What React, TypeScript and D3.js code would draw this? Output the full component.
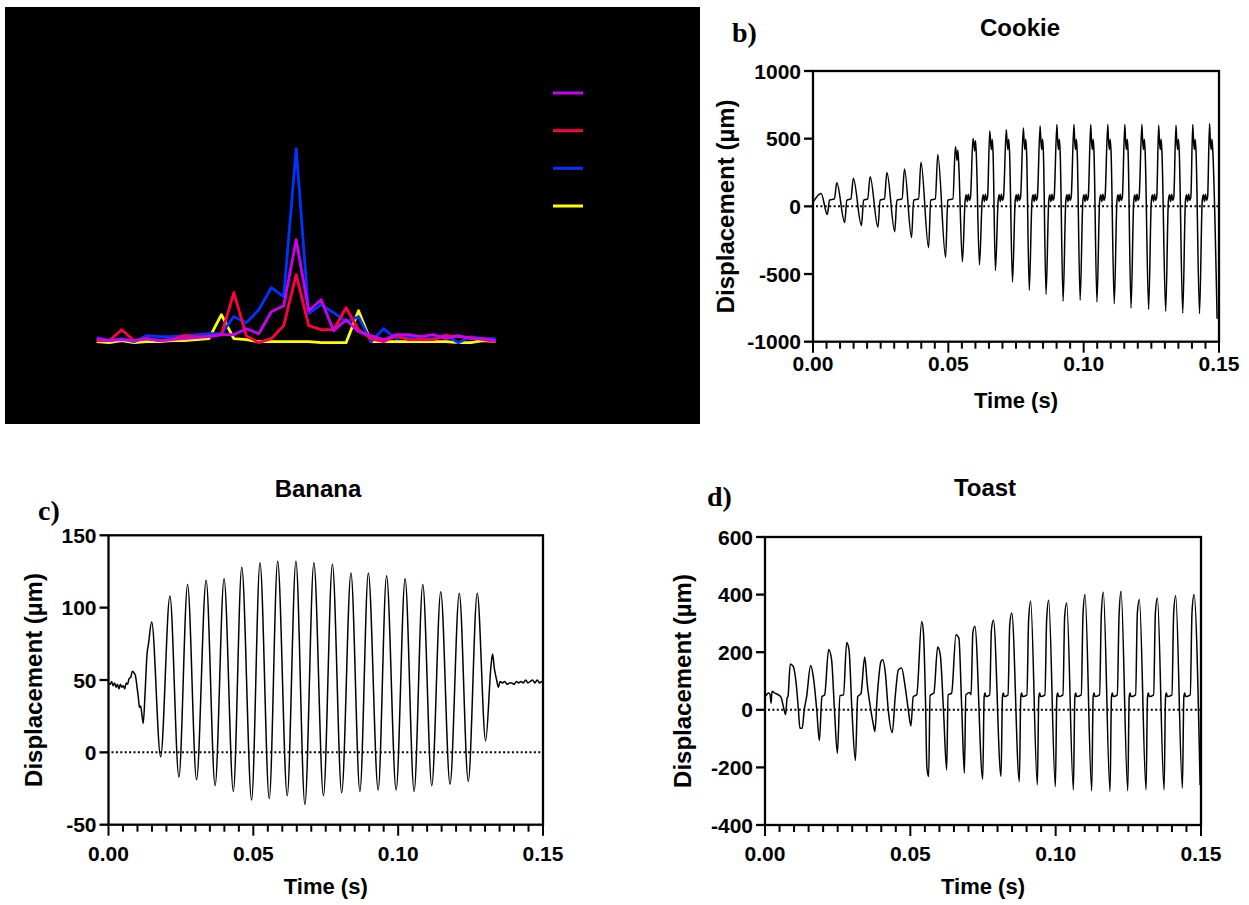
import React from 'react';
import * as d3 from 'd3';

type Pt = [number, number];

// ---------- Panel a (black spectrum panel) ----------
const aBins = d3.range(33);
const aMagenta = [4, 2, 3, 2, 4, 2, 3, 4, 5, 6, 8, 8, 14, 9, 31, 37, 103, 32, 43, 12, 23, 11, 7, 3, 8, 8, 6, 8, 4, 7, 4, 4, 2];
const aRed = [2, 2, 13, 2, 4, 2, 3, 7, 6, 6, 8, 50, 7, 0, 4, 17, 68, 17, 13, 13, 35, 13, 4, 1, 7, 3, 3, 3, 7, 6, 5, 3, 1];
const aBlue = [5, 2, 4, 1, 7, 6, 6, 7, 8, 9, 9, 26, 20, 33, 55, 46, 194, 29, 38, 30, 21, 26, 1, 14, 4, 6, 4, 4, 8, 0, 6, 4, 4];
const aYellow = [1, 0, 2, 0, 1, 1, 2, 2, 3, 4, 28, 4, 3, 1, 1, 1, 1, 1, 0, 0, 0, 32, 1, 1, 1, 1, 1, 1, 1, 0, 0, 2, 1];
const aSeriesColors = ['#ffff00', '#0033ff', '#ff0040', '#cc00f0'];
const aLegendColors = ['#cc00f0', '#ff0040', '#0033ff', '#ffff00'];

// ---------- Shared axis ticks ----------
const timeTicks = [0, 0.05, 0.1, 0.15];
const timeTickLabels = ['0.00', '0.05', '0.10', '0.15'];
const cookieYTicks = [-1000, -500, 0, 500, 1000];
const bananaYTicks = [-50, 0, 50, 100, 150];
const toastYTicks = [-400, -200, 0, 200, 400, 600];

// ---------- Cookie ----------
const cookieLeadIn: Pt[] = [[0, 30]];
const cookiePeakT = [0.0030, 0.0088, 0.0149, 0.0211, 0.0273, 0.0338, 0.0399, 0.0461, 0.0526, 0.0591, 0.0653, 0.0714, 0.0777, 0.0839, 0.0901, 0.0964, 0.1026, 0.1089, 0.1152, 0.1215, 0.1277, 0.1341, 0.1403, 0.1465];
const cookiePeakV = [95, 175, 207, 219, 251, 276, 325, 384, 441, 502, 557, 566, 578, 594, 605, 605, 605, 605, 605, 605, 600, 600, 605, 612];
const cookieTroughT = [0.0053, 0.0117, 0.0179, 0.0240, 0.0302, 0.0364, 0.0427, 0.0490, 0.0552, 0.0615, 0.0674, 0.0737, 0.0799, 0.0861, 0.0924, 0.0987, 0.1049, 0.1113, 0.1175, 0.1240, 0.1303, 0.1366, 0.1428, 0.1493];
const cookieTroughV = [-60, -119, -142, -155, -187, -231, -305, -376, -410, -432, -474, -559, -620, -651, -702, -694, -707, -719, -752, -762, -776, -790, -793, -830];
const cookieShoulder = [0, 0, 0, 0, 0, 0, 0, 0, 400, 470, 480, 480, 480, 480, 480, 480, 480, 480, 480, 480, 480, 480, 480, 480];
const cookieShoulderShape: Pt[] = [[0.0003, 0], [0.0006, -60], [0.0009, 15], [0.0012, -70]];
const cookieBlobShape: Pt[] = [[0.0010, 40], [0.0014, 85], [0.0018, 35], [0.0022, 90], [0.0026, 45], [0.0030, 70]];
const cookiePlateau = [45, 55];

// ---------- Banana ----------
const bananaStart: Pt[] = [
  [0, 48], [0.0006, 47], [0.0011, 49], [0.0016, 46], [0.0021, 48], [0.0026, 45], [0.0031, 47], [0.0036, 44],
  [0.0041, 47], [0.0046, 45], [0.0051, 46], [0.0056, 44], [0.0061, 48], [0.0066, 47], [0.0071, 51], [0.0077, 52],
  [0.0082, 56], [0.0088, 55], [0.0093, 53], [0.0098, 46], [0.0103, 38], [0.0107, 31], [0.0111, 32], [0.0116, 25],
  [0.0120, 20], [0.0126, 40], [0.0133, 68], [0.0138, 75],
];
const bananaExtremaT = [0.0149, 0.0180, 0.0212, 0.0243, 0.0273, 0.0304, 0.0337, 0.0368, 0.0399, 0.0431, 0.0460, 0.0494, 0.0523, 0.0555, 0.0584, 0.0617, 0.0647, 0.0678, 0.0709, 0.0742, 0.0773, 0.0805, 0.0837, 0.0868, 0.0897, 0.0931, 0.0960, 0.0993, 0.1024, 0.1055, 0.1085, 0.1116, 0.1147, 0.1179, 0.1211, 0.1242, 0.1273, 0.1302];
const bananaExtremaV = [90, -3, 108, -17, 116, -19, 119, -23, 120, -27, 128, -33, 131, -32, 132, -30, 132, -36, 131, -30, 130, -28, 124, -27, 124, -26, 122, -26, 120, -27, 116, -23, 111, -22, 110, -20, 110, 8];
const bananaEnd: Pt[] = [
  [0.1321, 61], [0.1326, 68], [0.1332, 58], [0.1340, 50], [0.1346, 45], [0.1352, 49], [0.1360, 48], [0.1368, 49],
  [0.1376, 47], [0.1384, 48], [0.1392, 48], [0.1400, 47], [0.1408, 49], [0.1416, 48], [0.1424, 49], [0.1432, 48],
  [0.1440, 50], [0.1448, 48], [0.1456, 49], [0.1464, 50], [0.1472, 48], [0.1480, 50], [0.1488, 48], [0.1496, 49], [0.1500, 48],
];

// ---------- Toast ----------
const toastEarly: Pt[] = [
  [0, 47], [0.0003, 49], [0.0011, 58], [0.0017, 55], [0.0021, 23], [0.0024, 64], [0.0034, 58], [0.0046, 52], [0.0055, 44],
  [0.0063, 12], [0.0071, -17], [0.0076, 41], [0.0079, 46],
  [0.0087, 159], [0.0097, 151], [0.0107, 93], [0.0115, 0], [0.0120, -64], [0.0128, -64], [0.0135, 0], [0.0143, 44],
  [0.0157, 154], [0.0166, 116], [0.0178, 0], [0.0187, -107], [0.0196, 46], [0.0205, 51],
  [0.0219, 209], [0.0229, 174], [0.0239, 0], [0.0249, -151], [0.0258, 49], [0.0270, 52],
  [0.0281, 234], [0.0289, 209], [0.0299, 0], [0.0311, -176], [0.0319, 46], [0.0330, 56],
  [0.0343, 183], [0.0352, 87], [0.0364, 0], [0.0373, -52], [0.0378, -75], [0.0386, 46],
  [0.0399, 168], [0.0405, 174], [0.0414, 128], [0.0424, 0], [0.0438, -79], [0.0448, 46],
  [0.0459, 139], [0.0470, 145], [0.0482, 81], [0.0493, 0], [0.0502, -56], [0.0510, 46], [0.0522, 52],
  [0.0539, 307], [0.0545, 270], [0.0552, 40], [0.0557, -200], [0.0563, -232], [0.0568, 50], [0.0581, 58],
  [0.0594, 218], [0.0603, 191], [0.0614, 0], [0.0625, -209], [0.0630, 52], [0.0642, 58],
  [0.0657, 261], [0.0667, 249], [0.0677, 0], [0.0686, -220], [0.0691, 52], [0.0705, 60],
];
const toastPeakT = [0.0722, 0.0786, 0.0849, 0.0914, 0.0976, 0.1038, 0.1101, 0.1164, 0.1225, 0.1288, 0.1350, 0.1413, 0.1476];
const toastPeakV = [290, 311, 336, 377, 380, 371, 400, 408, 412, 383, 388, 396, 400];
const toastRiseV = [267, 278, 296, 313, 313, 325, 330, 330, 325, 336, 336, 336, 336];
const toastTroughT = [0.0749, 0.0812, 0.0875, 0.0937, 0.0999, 0.1061, 0.1124, 0.1187, 0.1248, 0.1311, 0.1373, 0.1436, 0.1497];
const toastTroughV = [-241, -232, -249, -261, -267, -278, -281, -284, -281, -278, -278, -272, -261];
const toastPlateauShape: Pt[] = [[0.0005, 45], [0.0008, 58], [0.0011, 46]];
const toastPlateauEnd = 52;

// ---------- Builders (assemble vertices from read values) ----------
function buildCookie(): Pt[] {
  const pts: Pt[] = [...cookieLeadIn];
  for (let i = 0; i < cookiePeakT.length; i++) {
    const tp = cookiePeakT[i];
    const tt = cookieTroughT[i];
    pts.push([tp, cookiePeakV[i]]);
    const sh = cookieShoulder[i];
    if (sh) cookieShoulderShape.forEach(([dt, dv]) => pts.push([tp + dt, sh + dv]));
    pts.push([tt, cookieTroughV[i]]);
    const next = cookiePeakT[i + 1];
    if (next === undefined) break;
    if (sh) cookieBlobShape.forEach(([dt, v]) => pts.push([tt + dt, v]));
    else pts.push([tt + 0.0008, cookiePlateau[0]], [next - 0.0009, cookiePlateau[1]]);
  }
  return pts;
}

function buildBanana(): Pt[] {
  const mid: Pt[] = bananaExtremaT.map((t, i) => [t, bananaExtremaV[i]]);
  return [...bananaStart, ...mid, ...bananaEnd];
}

function buildToast(): Pt[] {
  const pts: Pt[] = [...toastEarly];
  for (let i = 0; i < toastPeakT.length; i++) {
    const tp = toastPeakT[i];
    if (i > 0) {
      const prev = toastTroughT[i - 1];
      toastPlateauShape.forEach(([dt, v]) => pts.push([prev + dt, v]));
    }
    pts.push([tp - 0.0013, toastPlateauEnd], [tp - 0.0007, toastRiseV[i]], [tp, toastPeakV[i]]);
    pts.push([toastTroughT[i], toastTroughV[i]]);
  }
  return pts;
}

const SANS = 'Liberation Sans, Arial, Helvetica, sans-serif';
const SERIF = 'Liberation Serif, Times New Roman, serif';

interface PanelSpec {
  left: number; right: number; top: number; bottom: number;
  yDomain: [number, number]; yTicks: number[];
  title: string; titleX: number; titleY: number;
  letter: string; letterX: number; letterY: number;
  xLabelY: number; xTitleY: number; yTitleX: number;
  points: Pt[];
}

function TracePanel({ s }: { s: PanelSpec }) {
  const x = d3.scaleLinear().domain([0, 0.15]).range([s.left, s.right]);
  const y = d3.scaleLinear().domain(s.yDomain).range([s.bottom, s.top]);
  const line = d3.line<Pt>().x((d) => x(d[0])).y((d) => y(d[1])).curve(d3.curveMonotoneX);
  const minor = d3.range(0, 31).map((i) => i * 0.005);
  const cx = (s.left + s.right) / 2;
  const cy = (s.top + s.bottom) / 2;
  return (
    <g>
      <text x={s.letterX} y={s.letterY} fontFamily={SERIF} fontWeight="bold" fontSize={28}>{s.letter}</text>
      <text x={s.titleX} y={s.titleY} textAnchor="middle" fontFamily={SANS} fontWeight="bold" fontSize={24}>{s.title}</text>
      <line x1={x(0) + 3} x2={x(0.15)} y1={y(0)} y2={y(0)} stroke="#000" strokeWidth={2} strokeDasharray="2 2.4" />
      <path d={line(s.points) || ''} fill="none" stroke="#000" strokeWidth={1.5} strokeLinejoin="round" />
      <rect x={s.left} y={s.top} width={s.right - s.left} height={s.bottom - s.top} fill="none" stroke="#000" strokeWidth={2.3} />
      {s.yTicks.map((v) => (
        <g key={v}>
          <line x1={s.left - 9} x2={s.left} y1={y(v)} y2={y(v)} stroke="#000" strokeWidth={2.3} />
          <text x={s.left - 12} y={y(v) + 7.5} textAnchor="end" fontFamily={SANS} fontWeight="bold" fontSize={21}>{v}</text>
        </g>
      ))}
      {minor.map((t, i) => (
        <line key={i} x1={x(t)} x2={x(t)} y1={s.bottom} y2={s.bottom + (i % 10 === 0 ? 11 : 7)} stroke="#000" strokeWidth={2} />
      ))}
      {timeTicks.map((t, i) => (
        <text key={t} x={x(t)} y={s.xLabelY} textAnchor="middle" fontFamily={SANS} fontWeight="bold" fontSize={21}>{timeTickLabels[i]}</text>
      ))}
      <text x={cx} y={s.xTitleY} textAnchor="middle" fontFamily={SANS} fontWeight="bold" fontSize={22}>Time (s)</text>
      <text transform={`translate(${s.yTitleX},${cy}) rotate(-90)`} textAnchor="middle" fontFamily={SANS} fontWeight="bold" fontSize={24}>Displacement (µm)</text>
    </g>
  );
}

function SpectrumPanel() {
  const x = d3.scaleLinear().domain([0, 32]).range([96.7, 495.7]);
  const y = d3.scaleLinear().domain([0, 200]).range([342.7, 142.7]);
  const line = d3.line<number>().x((_, i) => x(aBins[i])).y((d) => y(d));
  const series = [aYellow, aBlue, aRed, aMagenta];
  const legendY = d3.scalePoint<number>().domain([0, 1, 2, 3]).range([93, 206]);
  return (
    <g>
      <rect x={5} y={7} width={695} height={417} fill="#000" />
      {series.map((s, k) => (
        <path key={k} d={line(s) || ''} fill="none" stroke={aSeriesColors[k]} strokeWidth={2.8} strokeLinejoin="round" />
      ))}
      {aLegendColors.map((c, k) => (
        <line key={k} x1={553} x2={583} y1={legendY(k)} y2={legendY(k)} stroke={c} strokeWidth={3} />
      ))}
    </g>
  );
}

const cookieSpec: PanelSpec = {
  left: 813, right: 1219, top: 71, bottom: 341.7, yDomain: [-1000, 1000], yTicks: cookieYTicks,
  title: 'Cookie', titleX: 1020, titleY: 36, letter: 'b)', letterX: 732, letterY: 42,
  xLabelY: 371, xTitleY: 408, yTitleX: 734, points: buildCookie(),
};
const bananaSpec: PanelSpec = {
  left: 108.5, right: 543, top: 535.3, bottom: 824.7, yDomain: [-50, 150], yTicks: bananaYTicks,
  title: 'Banana', titleX: 318, titleY: 497, letter: 'c)', letterX: 38, letterY: 520,
  xLabelY: 861, xTitleY: 894, yTitleX: 42, points: buildBanana(),
};
const toastSpec: PanelSpec = {
  left: 765, right: 1201, top: 537, bottom: 825, yDomain: [-400, 600], yTicks: toastYTicks,
  title: 'Toast', titleX: 985, titleY: 496, letter: 'd)', letterX: 707, letterY: 506,
  xLabelY: 861, xTitleY: 894, yTitleX: 691, points: buildToast(),
};

export default function App() {
  return (
    <svg width={1249} height={905} style={{ position: 'absolute', left: 0, top: 0 }}>
      <rect width={1249} height={905} fill="#fff" />
      <SpectrumPanel />
      <TracePanel s={cookieSpec} />
      <TracePanel s={bananaSpec} />
      <TracePanel s={toastSpec} />
    </svg>
  );
}
